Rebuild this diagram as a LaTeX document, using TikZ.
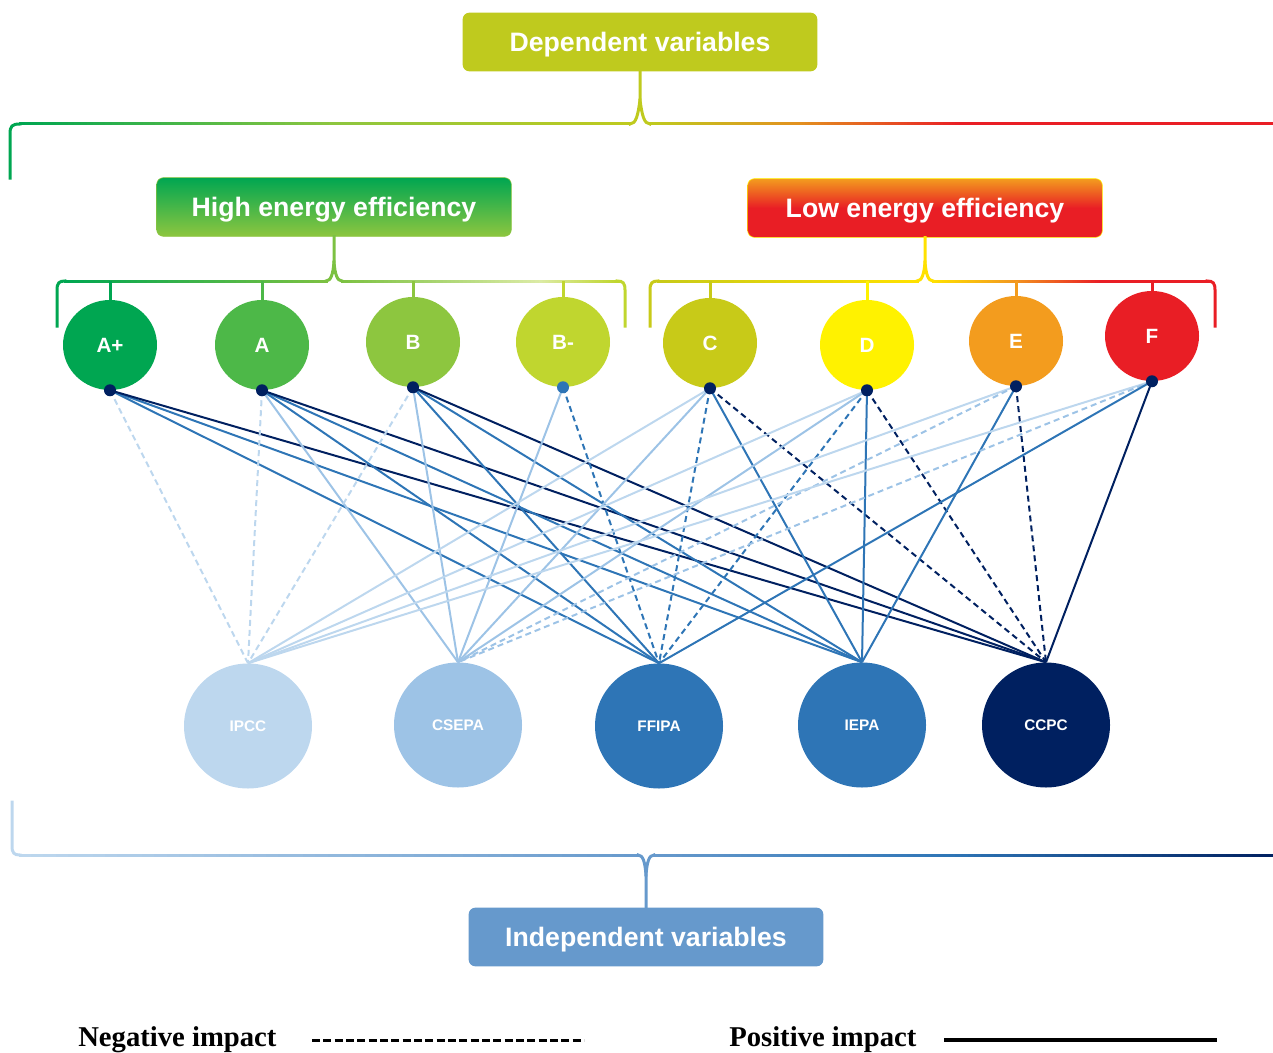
\documentclass[tikz,border=0pt]{standalone}
\usepackage{fontspec}
\setmainfont{Liberation Serif}
\newfontfamily\labelfont{Liberation Sans}
\usepackage{tikz}
\usetikzlibrary{shapes.geometric,backgrounds,positioning,calc}
% energy classes
\definecolor{aplus}{HTML}{00A651}
\definecolor{agreen}{HTML}{4DB848}
\definecolor{bgreen}{HTML}{8DC63F}
\definecolor{bminus}{HTML}{C0D62F}
\definecolor{cclass}{HTML}{C8CA18}
\definecolor{dclass}{HTML}{FFF200}
\definecolor{eclass}{HTML}{F39C1E}
\definecolor{fclass}{HTML}{E91E25}
% boxes and brackets
\definecolor{depbox}{HTML}{BFCA1E}
\definecolor{indbox}{HTML}{6699CC}
\definecolor{hibump}{HTML}{7CC142}
\definecolor{palegreen}{HTML}{DCEBA6}
\definecolor{loyellow}{HTML}{FFE100}
\definecolor{midorange}{HTML}{E3901F}
% independent variables
\definecolor{IPCC}{HTML}{BDD7EE}
\definecolor{CSEPA}{HTML}{9DC3E6}
\definecolor{FFIPA}{HTML}{2E75B6}
\definecolor{IEPA}{HTML}{2E75B6}
\definecolor{CCPC}{HTML}{002060}
\tikzstyle{headbox}=[rounded corners=5pt, minimum width=266pt, minimum height=44pt, inner sep=0pt, text depth=0pt, text=white, font=\labelfont\bfseries\fontsize{20}{20}\selectfont]
\tikzstyle{classnode}=[ellipse, inner sep=0pt, minimum width=70.5pt, minimum height=67.5pt, text=white, font=\labelfont\bfseries\fontsize{15.5}{15.5}\selectfont]
\tikzstyle{indepnode}=[ellipse, inner sep=0pt, minimum width=96pt, minimum height=93.75pt, text=white, font=\labelfont\bfseries\fontsize{11.5}{11.5}\selectfont]
\tikzstyle{jointdot}=[circle, fill=CCPC, inner sep=0pt, minimum size=9pt]
\tikzstyle{bracketline}=[line width=2.25pt, line cap=rect]
\tikzstyle{posline}=[line width=1.5pt]
\tikzstyle{negline}=[line width=1.5pt, dash pattern=on 4.5pt off 3pt]
\tikzstyle{legendtext}=[inner sep=0pt, font=\bfseries\fontsize{21.5}{21.5}\selectfont]
% horizontal bracket piece fading from one colour to another
\newcommand{\fadeline}[5]{
	\foreach \i [evaluate=\i as \p using int(100-2*\i)] in {0,...,49}
		\draw[bracketline, color=#4!\p!#5] ({#1+(#2-#1)/50*\i},#3) -- ({#1+(#2-#1)/50*(\i+1)},#3);
}

\begin{document}
\begin{tikzpicture}[x=0.75pt, y=-0.75pt]
	\useasboundingbox (0,0) rectangle (1273,1052);
	%
	\node[headbox, fill=depbox] (dep) at (640,42) {Dependent variables};
	\node[headbox, top color=aplus, bottom color=bgreen, draw=bgreen] (high) at (334,207) {High energy efficiency};
	\node[headbox, top color=eclass, bottom color=fclass, middle color=fclass, draw=dclass] (low) at (925,208) {Low energy efficiency};
	\node[headbox, fill=indbox] (indep) at (646,937) {Independent variables};
	%
	\node[classnode, fill=aplus] (Aplus) at (110,345) {A+};
	\node[classnode, fill=agreen] (A) at (262,345) {A};
	\node[classnode, fill=bgreen] (B) at (413,342) {B};
	\node[classnode, fill=bminus] (Bminus) at (563,342) {B-};
	\node[classnode, fill=cclass] (C) at (710,343) {C};
	\node[classnode, fill=dclass] (D) at (867,345) {D};
	\node[classnode, fill=eclass] (E) at (1016,341) {E};
	\node[classnode, fill=fclass] (F) at (1152,336) {F};
	%
	\node[jointdot] (dAplus) at (Aplus.south) {};
	\node[jointdot] (dA) at (A.south) {};
	\node[jointdot] (dB) at (B.south) {};
	\node[jointdot, fill=FFIPA] (dBminus) at (Bminus.south) {};
	\node[jointdot] (dC) at (C.south) {};
	\node[jointdot] (dD) at (D.south) {};
	\node[jointdot] (dE) at (E.south) {};
	\node[jointdot] (dF) at (F.south) {};
	%
	\node[indepnode, fill=IPCC] (IPCC) at (248,726) {IPCC};
	\node[indepnode, fill=CSEPA] (CSEPA) at (458,725) {CSEPA};
	\node[indepnode, fill=FFIPA] (FFIPA) at (659,726) {FFIPA};
	\node[indepnode, fill=IEPA] (IEPA) at (862,725) {IEPA};
	\node[indepnode, fill=CCPC] (CCPC) at (1046,725) {CCPC};
	%
	\begin{pgfonlayer}{background}
		\foreach \g/\v/\s in {Aplus/IPCC/negline, Aplus/FFIPA/posline, Aplus/IEPA/posline, Aplus/CCPC/posline,
			A/IPCC/negline, A/CSEPA/posline, A/FFIPA/posline, A/IEPA/posline, A/CCPC/posline,
			B/IPCC/negline, B/CSEPA/posline, B/FFIPA/posline, B/IEPA/posline, B/CCPC/posline,
			Bminus/CSEPA/posline, Bminus/FFIPA/negline,
			C/IPCC/posline, C/CSEPA/posline, C/FFIPA/negline, C/IEPA/posline, C/CCPC/negline,
			D/IPCC/posline, D/CSEPA/posline, D/FFIPA/negline, D/IEPA/posline, D/CCPC/negline,
			E/IPCC/posline, E/CSEPA/negline, E/IEPA/posline, E/CCPC/negline,
			F/IPCC/posline, F/CSEPA/negline, F/FFIPA/posline, F/CCPC/posline}
			\draw[\s, draw=\v] (d\g.center) -- (\v.north);
	\end{pgfonlayer}
	%
	% top bracket
	\draw[bracketline, aplus] (10,178) -- (10,134) .. controls (10,126) and (12,124) .. (20,124);
	\fadeline{20}{330}{124}{aplus}{bgreen}
	\fadeline{330}{630}{124}{bgreen}{depbox}
	\draw[bracketline, depbox] (630,124) .. controls (636,124) and (638,115) .. (640,100) -- (dep.south);
	\draw[bracketline, depbox] (650,124) .. controls (644,124) and (642,115) .. (640,100);
	\fadeline{650}{800}{124}{depbox}{midorange}
	\fadeline{800}{960}{124}{midorange}{fclass}
	\draw[bracketline, fclass] (960,124) -- (1273,124);
	%
	% high efficiency bracket
	\coordinate (hib) at (0,281);
	\draw[bracketline, aplus] (57,326) -- (57,290) .. controls (57,283) and (59,281) .. (65,281);
	\fadeline{65}{326}{281}{aplus}{hibump}
	\draw[bracketline, hibump] (326,281) .. controls (331,281) and (333,274) .. (334,262) -- (high.south);
	\draw[bracketline, hibump] (342,281) .. controls (337,281) and (335,274) .. (334,262);
	\fadeline{342}{540}{281}{hibump}{palegreen}
	\fadeline{540}{617}{281}{palegreen}{bminus}
	\draw[bracketline, bminus] (617,281) .. controls (623,281) and (625,283) .. (625,290) -- (625,326);
	%
	% low efficiency bracket
	\draw[bracketline, cclass] (650,326) -- (650,290) .. controls (650,283) and (652,281) .. (658,281);
	\fadeline{658}{917}{281}{cclass}{loyellow}
	\draw[bracketline, loyellow] (917,281) .. controls (922,281) and (924,274) .. (925,262) -- (low.south);
	\draw[bracketline, loyellow] (933,281) .. controls (928,281) and (926,274) .. (925,262);
	\fadeline{933}{1010}{281}{loyellow}{eclass}
	\fadeline{1010}{1100}{281}{eclass}{fclass}
	\fadeline{1100}{1207}{281}{fclass}{fclass}
	\draw[bracketline, fclass] (1207,281) .. controls (1213,281) and (1215,283) .. (1215,290) -- (1215,326);
	%
	\foreach \c/\k in {Aplus/aplus, A/agreen, B/bgreen, Bminus/bminus, C/cclass, D/dclass, E/eclass, F/fclass}
		\draw[bracketline, line cap=butt, \k] (\c.north) -- (\c.north |- hib);
	%
	% bottom bracket
	\draw[bracketline, IPCC] (12,802) -- (12,846) .. controls (12,853) and (14,855) .. (20,855);
	\fadeline{20}{638}{855}{IPCC}{indbox}
	\draw[bracketline, indbox] (638,855) .. controls (643,855) and (645,862) .. (646,875) -- (indep.north);
	\draw[bracketline, indbox] (654,855) .. controls (649,855) and (647,862) .. (646,875);
	\fadeline{654}{950}{855}{indbox}{FFIPA}
	\fadeline{950}{1273}{855}{FFIPA}{CCPC}
	%
	% legend
	\node[legendtext, anchor=base west] (negtext) at (78,1046) {Negative impact};
	\coordinate (negA) at (312,1040);
	\coordinate (negB) at (584,1040);
	\draw[black, line width=2.25pt, dash pattern=on 6pt off 2.5pt] (negA) -- (negB);
	\node[legendtext, anchor=base west] (postext) at (729,1046) {Positive impact};
	\coordinate (posA) at (944,1040);
	\coordinate (posB) at (1217,1040);
	\draw[black, line width=3pt] (posA) -- (posB);
\end{tikzpicture}
\end{document}
